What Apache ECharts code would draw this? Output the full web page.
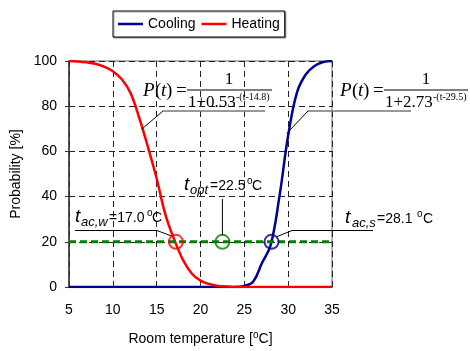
<!DOCTYPE html>
<html>
<head>
<meta charset="utf-8">
<script src="https://cdn.jsdelivr.net/npm/echarts@6/dist/echarts.min.js"></script>
<style>
  html, body { margin: 0; padding: 0; background: #fff; }
  #chart { width: 470px; height: 351px; }
</style>
</head>
<body>
<div id="chart"></div>
<script>
// room temperature, degC
var temps = [5, 6, 7, 8, 9, 10, 11, 12, 13, 14, 15, 16, 17, 18, 19, 20,
  21, 22, 23, 24, 25, 26, 27, 28, 29, 30, 31, 32, 33, 34, 35];
// probability [%]
var heating = [100, 99.8, 99.4, 98.8, 97.5, 95.5, 92, 86, 75, 62, 48, 32, 21, 12, 6, 2.8,
  1.3, 0.5, 0.2, 0, 0, 0, 0, 0, 0, 0, 0, 0, 0, 0, 0];
var cooling = [0, 0, 0, 0, 0, 0, 0, 0, 0, 0, 0, 0, 0, 0, 0, 0,
  0, 0, 0, 0, 0.5, 2.3, 10.5, 18.5, 40, 67, 86, 94, 97.8, 99.5, 100];
// 20 % acceptance level
var levelT = [5, 35];
var levelP = [20, 20];
// marked temperatures: t_ac,w, t_opt, t_ac,s
var markT = [17.2, 22.5, 28.1];
var markP = [20, 20, 20];
var markColors = ['#ff0000', '#008000', '#000099'];

var FONT = '"Liberation Sans", Arial, sans-serif';
var SERIF = '"Liberation Serif", "Times New Roman", serif';

var chartDom = document.getElementById('chart');
var myChart = echarts.init(chartDom);

var option = {
  animation: false,
  backgroundColor: '#fff',
  textStyle: { fontFamily: FONT },
  legend: {
    data: ['Cooling', 'Heating'],
    left: 113,
    top: 11,
    padding: [6, 5, 6, 5],
    itemGap: 6,
    itemWidth: 25,
    itemHeight: 2.5,
    icon: 'rect',
    borderColor: '#000',
    borderWidth: 1,
    shadowColor: 'rgba(0,0,0,0.35)',
    shadowOffsetX: 1,
    shadowOffsetY: 1,
    shadowBlur: 1,
    backgroundColor: '#fff',
    textStyle: { fontSize: 14, color: '#000', fontFamily: FONT }
  },
  grid: {
    left: 69, right: 138, top: 61, bottom: 61,
    show: true, borderColor: '#999', borderWidth: 1.5
  },
  xAxis: {
    type: 'value',
    min: 5, max: 35, interval: 5,
    name: 'Room temperature [{sup|o}C]',
    nameLocation: 'middle',
    nameGap: 43,
    nameTextStyle: {
      fontSize: 14, color: '#000', fontFamily: FONT,
      rich: { sup: { fontSize: 10, color: '#000', fontFamily: FONT, padding: [0, 0, 8, 0] } }
    },
    axisLine: { lineStyle: { color: '#333', width: 1.5 } },
    axisTick: { inside: true, length: 4, lineStyle: { color: '#333' } },
    axisLabel: { fontSize: 14, color: '#000', margin: 16, fontFamily: FONT },
    splitLine: { show: true, lineStyle: { color: '#222', width: 1, type: [6, 4] } }
  },
  yAxis: {
    type: 'value',
    min: 0, max: 100, interval: 20,
    name: 'Probability [%]',
    nameLocation: 'middle',
    nameGap: 44,
    nameTextStyle: { fontSize: 14, color: '#000', fontFamily: FONT },
    axisLine: { show: true, lineStyle: { color: '#333', width: 1.5 } },
    axisTick: { show: true, length: 4, lineStyle: { color: '#333' } },
    axisLabel: { fontSize: 14, color: '#000', margin: 12, fontFamily: FONT },
    splitLine: { show: true, lineStyle: { color: '#222', width: 1, type: [6, 4] } }
  },
  series: [
    {
      name: 'Cooling',
      type: 'line',
      data: temps.map(function (t, i) { return [t, cooling[i]]; }),
      symbol: 'none',
      smooth: 0.4,
      color: '#000099',
      lineStyle: { width: 2.5, color: '#000099' },
      z: 3
    },
    {
      name: 'Heating',
      type: 'line',
      data: temps.map(function (t, i) { return [t, heating[i]]; }),
      symbol: 'none',
      smooth: 0.4,
      color: '#ff0000',
      lineStyle: { width: 2.5, color: '#ff0000' },
      z: 3
    },
    {
      name: 'Level',
      type: 'line',
      data: levelT.map(function (t, i) { return [t, levelP[i]]; }),
      symbol: 'none',
      lineStyle: { width: 3, color: '#008000', type: [7, 4] },
      z: 4
    },
    {
      name: 'Marks',
      type: 'scatter',
      symbol: 'circle',
      symbolSize: 14,
      data: markT.map(function (t, i) {
        return {
          value: [t, markP[i]],
          itemStyle: { color: 'rgba(0,0,0,0)', borderColor: markColors[i], borderWidth: 2 }
        };
      }),
      z: 5
    }
  ]
};

option && myChart.setOption(option);

// annotations (formulas, labels and leader lines)
function px(t, p) {
  return myChart.convertToPixel({ gridIndex: 0 }, [t, p]);
}
function txt(x, y, text, font, align) {
  return {
    type: 'text', x: x, y: y, silent: true, z: 20,
    style: {
      text: text, font: font, fill: '#000',
      align: align || 'left', verticalAlign: 'middle',
      textAlign: align || 'left', textVerticalAlign: 'middle'
    }
  };
}
function seg(x1, y1, x2, y2, color, w) {
  return {
    type: 'line', silent: true, z: 19,
    shape: { x1: x1, y1: y1, x2: x2, y2: y2 },
    style: { stroke: color, lineWidth: w }
  };
}

var els = [];

// heating formula
var hA = px(13.35, 70);
els.push(seg(hA[0], hA[1], 163, 111, '#000', 1));
els.push(seg(163, 111, 265, 111, '#777', 1.5));
els.push(txt(143, 91, 'P', 'italic 19px ' + SERIF));
els.push(txt(155, 91, '(', '19px ' + SERIF));
els.push(txt(161, 91, 't', 'italic 19px ' + SERIF));
els.push(txt(166, 91, ')', '19px ' + SERIF));
els.push(txt(176, 91, '=', '19px ' + SERIF));
els.push(seg(187, 90, 272, 90, '#000', 1));
els.push(txt(229, 80, '1', '17px ' + SERIF, 'center'));
els.push(txt(188, 103, '1+0.53', '17px ' + SERIF));
els.push(txt(236, 97, '-(t-14.8)', '10px ' + SERIF));

// cooling formula
var cA = px(29.85, 68);
els.push(seg(cA[0], cA[1], 308, 111, '#000', 1));
els.push(seg(308, 111, 411, 111, '#777', 1.5));
els.push(txt(340, 91, 'P', 'italic 19px ' + SERIF));
els.push(txt(352, 91, '(', '19px ' + SERIF));
els.push(txt(358, 91, 't', 'italic 19px ' + SERIF));
els.push(txt(363, 91, ')', '19px ' + SERIF));
els.push(txt(373, 91, '=', '19px ' + SERIF));
els.push(seg(384, 90, 468, 90, '#000', 1));
els.push(txt(426, 80, '1', '17px ' + SERIF, 'center'));
els.push(txt(385, 103, '1+2.73', '17px ' + SERIF));
els.push(txt(433, 97, '-(t-29.5)', '10px ' + SERIF));

// t_ac,w
var w = px(markT[0], markP[0]);
els.push(seg(w[0] - 5, w[1] - 6, 157, 230.5, '#000', 1));
els.push(seg(157, 230.5, 75, 230.5, '#000', 1));
els.push(txt(75, 217, 't', 'italic 19px ' + FONT));
els.push(txt(81, 222, 'ac,w', 'italic 13px ' + FONT));
els.push(txt(109, 218, '=17.0', '14px ' + FONT));
els.push(txt(147, 213, 'o', '10px ' + FONT));
els.push(txt(152, 218, 'C', '14px ' + FONT));

// t_opt
var o = px(markT[1], markP[1]);
els.push(seg(o[0], o[1] - 7, o[0], 199, '#000', 1));
els.push(txt(184, 185, 't', 'italic 19px ' + FONT));
els.push(txt(190, 190, 'opt', 'italic 13px ' + FONT));
els.push(txt(210, 186, '=22.5', '14px ' + FONT));
els.push(txt(247, 181, 'o', '10px ' + FONT));
els.push(txt(252, 186, 'C', '14px ' + FONT));

// t_ac,s
var s = px(markT[2], markP[2]);
els.push(seg(s[0] + 5, s[1] - 5, 292, 230.5, '#000', 1));
els.push(seg(292, 230.5, 373, 230.5, '#000', 1));
els.push(txt(345, 218, 't', 'italic 19px ' + FONT));
els.push(txt(352, 223, 'ac,s', 'italic 13px ' + FONT));
els.push(txt(377, 219, '=28.1', '14px ' + FONT));
els.push(txt(417, 214, 'o', '10px ' + FONT));
els.push(txt(423, 219, 'C', '14px ' + FONT));

myChart.setOption({ graphic: { elements: els } });
</script>
</body>
</html>
